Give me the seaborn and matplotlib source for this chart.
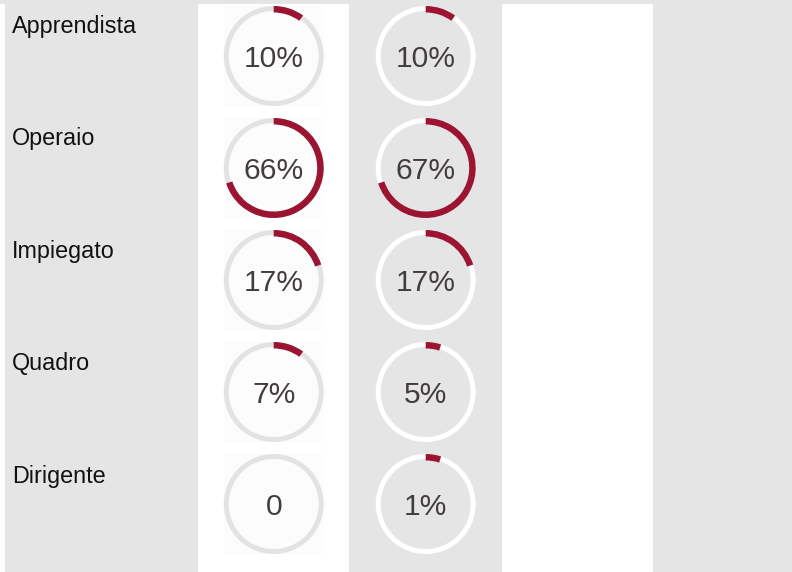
import numpy as np
import matplotlib.pyplot as plt
from matplotlib.patches import Rectangle
import seaborn as sns

# dati
categorie = ['Apprendista', 'Operaio', 'Impiegato', 'Quadro', 'Dirigente']
etichette_a = ['10%', '66%', '17%', '7%', '0']
etichette_b = ['10%', '67%', '17%', '5%', '1%']
# lunghezza dell'arco disegnato (frazione del cerchio, arrotondata a passi di 5%)
arco_a = [0.10, 0.70, 0.20, 0.10, 0.0]
arco_b = [0.10, 0.70, 0.20, 0.05, 0.05]

sns.set_theme(style='white')
plt.rcParams['font.family'] = ['Liberation Sans', 'DejaVu Sans']

GRIGIO = '#e5e5e5'
ROSSO = '#9b1431'
TESTO = '#423d3c'
W, H = 792, 572

fig = plt.figure(figsize=(W / 100, H / 100), dpi=100)
fig.patch.set_facecolor(GRIGIO)

# sfondo a colonne
bg = fig.add_axes([0, 0, 1, 1])
bg.set_xlim(0, W)
bg.set_ylim(H, 0)
bg.axis('off')
for x0, x1 in [(0, 5), (198, 349), (502, 653)]:
    bg.add_patch(Rectangle((x0, 4), x1 - x0, H - 4, color='white', lw=0))

col_x = [273.7, 425.7]
row_y = [56 + 112 * i for i in range(len(categorie))]

for i, cat in enumerate(categorie):
    cy = row_y[i]
    # riquadro appena grigio dietro al primo anello
    bg.add_patch(Rectangle((col_x[0] - 50, cy - 50), 100, 100, color='#fcfcfc', lw=0))
    fig.text(12 / W, 1 - (33 + 112.4 * i) / H, cat, fontsize=16.8,
             va='baseline', ha='left', color='#111111')

    for j, (etich, archi, anello) in enumerate([(etichette_a, arco_a, '#e3e3e3'),
                                               (etichette_b, arco_b, 'white')]):
        cx = col_x[j]
        ax = fig.add_axes([(cx - 50) / W, 1 - (cy + 50) / H, 100 / W, 100 / H])
        ax.pie([1], radius=1, colors=[anello],
               wedgeprops=dict(width=0.1, linewidth=0))
        a = archi[i]
        if a > 0:
            ax.pie([a, 1 - a], radius=1, startangle=90, counterclock=False,
                   colors=[ROSSO, 'none'], wedgeprops=dict(width=0.13, linewidth=0))
        ax.text(0, -0.214, etich[i], ha='center', va='baseline',
                fontsize=21.6, color=TESTO)
        ax.set_xlim(-1, 1)
        ax.set_ylim(-1, 1)
        ax.set_aspect('equal')
        ax.axis('off')

plt.savefig('out.png', dpi=100, facecolor=GRIGIO)
